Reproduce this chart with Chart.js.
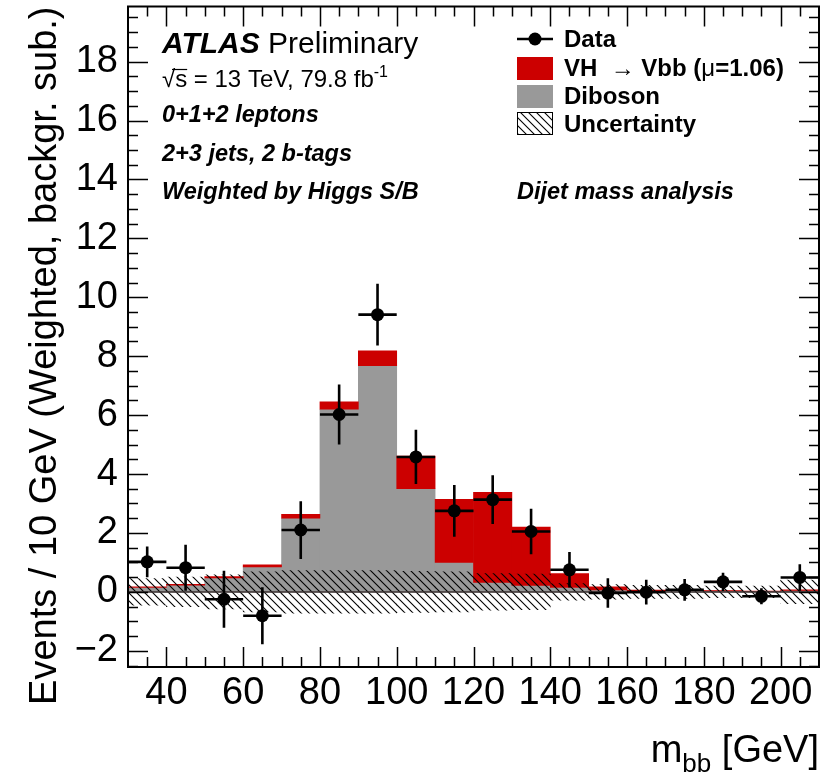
<!DOCTYPE html>
<html>
<head>
<meta charset="utf-8">
<script src="https://cdn.jsdelivr.net/npm/chart.js@4.4.1/dist/chart.umd.min.js"></script>
<style>
  html, body { margin: 0; padding: 0; background: #fff; }
  #wrap { width: 831px; height: 782px; position: relative; }
</style>
</head>
<body>
<div id="wrap"><canvas id="mbbChart" width="831" height="782"></canvas></div>
<script>
// bin centres of the m_bb histogram (10 GeV bins, 30-210 GeV)
const binCenters = [35, 45, 55, 65, 75, 85, 95, 105, 115, 125, 135, 145, 155, 165, 175, 185, 195, 205];
const binWidth = 10;

// stacked MC (weighted, background subtracted)
const diboson = [0.15, 0.23, 0.47, 0.85, 2.50, 6.20, 7.68, 3.50, 1.00, 0.32, 0.22, 0.15, 0.07, 0.04, 0.04, 0.03, 0.02, 0.05];
const vhSignal = [0.02, 0.03, 0.05, 0.07, 0.13, 0.25, 0.50, 1.11, 2.14, 3.06, 1.98, 0.47, 0.10, 0.02, 0.01, 0.01, 0.01, 0.02];

// data points and their errors
const dataVals = [1.02, 0.82, -0.25, -0.81, 2.10, 6.02, 9.41, 4.58, 2.75, 3.13, 2.05, 0.75, -0.04, -0.01, 0.07, 0.34, -0.15, 0.49];
const dataErr = [0.52, 0.78, 0.97, 0.97, 0.98, 1.02, 1.05, 0.92, 0.88, 0.83, 0.77, 0.60, 0.50, 0.42, 0.37, 0.31, 0.27, 0.45];

// background uncertainty band (half width, around zero)
const uncHalf = [0.45, 0.50, 0.58, 0.68, 0.72, 0.72, 0.72, 0.70, 0.68, 0.62, 0.60, 0.28, 0.25, 0.22, 0.22, 0.20, 0.20, 0.40];

const xTicks = [40, 60, 80, 100, 120, 140, 160, 180, 200];
const yTicks = [-2, 0, 2, 4, 6, 8, 10, 12, 14, 16, 18];

const FONT = "'Liberation Sans', Arial, Helvetica, sans-serif";
const RED = "#cc0000";
const GREY = "#999999";

function makeHatch(ctx) {
  const n = 8;
  const c = document.createElement("canvas");
  c.width = n;
  c.height = n;
  const g = c.getContext("2d");
  g.strokeStyle = "#000";
  g.lineWidth = 1.1;
  g.beginPath();
  g.moveTo(0, 0);
  g.lineTo(n, n);
  g.moveTo(-1, n - 1);
  g.lineTo(1, n + 1);
  g.moveTo(n - 1, -1);
  g.lineTo(n + 1, 1);
  g.stroke();
  return ctx.createPattern(c, "repeat");
}

function drawHatchBox(ctx, x, y, w, h, pattern) {
  ctx.fillStyle = "#fff";
  ctx.fillRect(x, y, w, h);
  ctx.fillStyle = pattern;
  ctx.fillRect(x, y, w, h);
  ctx.strokeStyle = "#000";
  ctx.lineWidth = 1;
  ctx.strokeRect(x + 0.5, y + 0.5, w - 1, h - 1);
}

// text pieces drawn one after another: [text, font, dy]
function drawRich(ctx, x, y, parts) {
  let cx = x;
  parts.forEach(([txt, font, dy]) => {
    ctx.font = font;
    ctx.fillText(txt, cx, y + (dy || 0));
    cx += ctx.measureText(txt).width;
  });
  return cx;
}

const atlasDecor = {
  id: "atlasDecor",
  beforeDatasetDraw(chart, args) {
    // zero line and error bars go just under the data markers
    if (args.index !== 0) return;
    const { ctx, chartArea: a, scales: { x, y } } = chart;
    ctx.save();
    ctx.strokeStyle = "#3a3030";
    ctx.lineWidth = 1.5;
    ctx.beginPath();
    ctx.moveTo(a.left, y.getPixelForValue(0));
    ctx.lineTo(a.right, y.getPixelForValue(0));
    ctx.stroke();

    ctx.strokeStyle = "#000";
    ctx.lineWidth = 2.6;
    ctx.beginPath();
    binCenters.forEach((c, i) => {
      const py = y.getPixelForValue(dataVals[i]);
      ctx.moveTo(x.getPixelForValue(c - binWidth / 2), py);
      ctx.lineTo(x.getPixelForValue(c + binWidth / 2), py);
      const px = x.getPixelForValue(c);
      ctx.moveTo(px, y.getPixelForValue(dataVals[i] + dataErr[i]));
      ctx.lineTo(px, y.getPixelForValue(dataVals[i] - dataErr[i]));
    });
    ctx.stroke();
    ctx.restore();
  },
  afterDraw(chart) {
    const { ctx, chartArea: a, scales: { x, y } } = chart;
    ctx.save();

    // frame with inward ticks on all four sides
    ctx.strokeStyle = "#000";
    ctx.lineWidth = 1.5;
    ctx.beginPath();
    for (let v = 35; v < 210; v += 5) {
      const len = v % 20 === 0 ? 20 : 10;
      const px = Math.round(x.getPixelForValue(v)) + 0.5;
      ctx.moveTo(px, a.bottom);
      ctx.lineTo(px, a.bottom - len);
      ctx.moveTo(px, a.top);
      ctx.lineTo(px, a.top + len);
    }
    for (let v = -2.5; v < 20; v += 0.5) {
      const len = v % 2 === 0 ? 20 : 10;
      const py = Math.round(y.getPixelForValue(v)) + 0.5;
      if (py > a.bottom || py < a.top) continue;
      ctx.moveTo(a.left, py);
      ctx.lineTo(a.left + len, py);
      ctx.moveTo(a.right, py);
      ctx.lineTo(a.right - len, py);
    }
    ctx.stroke();
    ctx.lineWidth = 2;
    ctx.strokeRect(a.left, a.top, a.right - a.left, a.bottom - a.top);

    ctx.fillStyle = "#000";
    ctx.textBaseline = "alphabetic";
    ctx.textAlign = "left";

    // axis titles
    ctx.save();
    ctx.translate(56, a.top);
    ctx.rotate(-Math.PI / 2);
    ctx.textAlign = "right";
    ctx.font = "38px " + FONT;
    ctx.fillText("Events / 10 GeV (Weighted, backgr. sub.)", 0, 0);
    ctx.restore();

    const tail = " [GeV]";
    ctx.font = "38px " + FONT;
    const wTail = ctx.measureText(tail).width;
    const wM = ctx.measureText("m").width;
    ctx.font = "26px " + FONT;
    const wSub = ctx.measureText("bb").width;
    drawRich(ctx, a.right - wTail - wSub - wM, 762, [
      ["m", "38px " + FONT, 0],
      ["bb", "26px " + FONT, 10],
      [tail, "38px " + FONT, 0],
    ]);

    // ATLAS label and analysis text
    const lx = 162;
    drawRich(ctx, lx, 53, [
      ["ATLAS", "italic bold 30px " + FONT, 0],
      [" Preliminary", "30px " + FONT, 0],
    ]);
    const sqrtEnd = drawRich(ctx, lx, 87, [["\u221As", "24px " + FONT, 0]]);
    ctx.lineWidth = 1.2;
    ctx.beginPath();
    ctx.moveTo(lx + 10, 69.5);
    ctx.lineTo(sqrtEnd, 69.5);
    ctx.stroke();
    drawRich(ctx, sqrtEnd, 87, [
      [" = 13 TeV, 79.8 fb", "24px " + FONT, 0],
      ["-1", "16px " + FONT, -10],
    ]);
    ctx.font = "italic bold 23.5px " + FONT;
    ctx.fillText("0+1+2 leptons", lx, 122);
    ctx.fillText("2+3 jets, 2 b-tags", lx, 161);
    ctx.fillText("Weighted by Higgs S/B", lx, 199);
    ctx.fillText("Dijet mass analysis", 517, 199);

    // legend
    const bx = 517, bw = 36, tx = 564;
    ctx.strokeStyle = "#000";
    ctx.lineWidth = 2.6;
    ctx.beginPath();
    ctx.moveTo(bx, 39);
    ctx.lineTo(bx + bw, 39);
    ctx.stroke();
    ctx.beginPath();
    ctx.arc(bx + bw / 2, 39, 6.5, 0, Math.PI * 2);
    ctx.fill();
    ctx.fillStyle = RED;
    ctx.fillRect(bx, 57, bw, 23);
    ctx.fillStyle = GREY;
    ctx.fillRect(bx, 85, bw, 23);
    drawHatchBox(ctx, bx, 112, bw, 23, chart.$hatch);

    ctx.fillStyle = "#000";
    const bold = "bold 24px " + FONT;
    ctx.font = bold;
    ctx.fillText("Data", tx, 47);
    drawRich(ctx, tx, 76, [
      ["VH  ", bold, 0],
      ["\u2192", "24px " + FONT, 0],
      [" Vbb (", bold, 0],
      ["\u03BC", "24px " + FONT, 0],
      ["=1.06)", bold, 0],
    ]);
    ctx.font = bold;
    ctx.fillText("Diboson", tx, 104);
    ctx.fillText("Uncertainty", tx, 132);

    ctx.restore();
  },
};

function crearGraficoMbb() {
  const ctx = document.getElementById("mbbChart").getContext("2d");
  const hatch = makeHatch(ctx);

  const chart = new Chart(ctx, {
    type: "bar",
    data: {
      datasets: [
        {
          type: "scatter",
          label: "Data",
          data: binCenters.map((c, i) => ({ x: c, y: dataVals[i] })),
          pointRadius: 6.5,
          pointHoverRadius: 6.5,
          pointBackgroundColor: "#000",
          pointBorderWidth: 0,
          order: 0,
        },
        {
          label: "Uncertainty",
          data: binCenters.map((c, i) => ({ x: c, y: [-uncHalf[i], uncHalf[i]] })),
          backgroundColor: hatch,
          borderWidth: 0,
          grouped: false,
          barPercentage: 1,
          categoryPercentage: 1,
          order: 1,
        },
        {
          label: "VH \u2192 Vbb (\u03BC=1.06)",
          data: binCenters.map((c, i) => ({ x: c, y: [diboson[i], diboson[i] + vhSignal[i]] })),
          backgroundColor: RED,
          borderWidth: 0,
          grouped: false,
          barPercentage: 1,
          categoryPercentage: 1,
          order: 2,
        },
        {
          label: "Diboson",
          data: binCenters.map((c, i) => ({ x: c, y: diboson[i] })),
          backgroundColor: GREY,
          borderWidth: 0,
          grouped: false,
          barPercentage: 1,
          categoryPercentage: 1,
          order: 3,
        },
      ],
    },
    options: {
      responsive: false,
      animation: false,
      layout: { padding: { left: 28, top: 5, right: 12, bottom: 15 } },
      plugins: {
        legend: { display: false },
        tooltip: { enabled: false },
      },
      scales: {
        x: {
          type: "linear",
          min: 30,
          max: 210,
          offset: false,
          grid: { display: false, drawTicks: false },
          border: { display: false },
          afterBuildTicks: (s) => { s.ticks = xTicks.map((v) => ({ value: v })); },
          afterFit: (s) => {
            s.height = 100;
            s.paddingLeft = 0;
            s.paddingRight = 0;
          },
          ticks: {
            padding: 4,
            color: "#000",
            maxRotation: 0,
            autoSkip: false,
            font: { family: FONT, size: 38 },
          },
        },
        y: {
          type: "linear",
          min: -2.55,
          max: 19.87,
          grid: { display: false, drawTicks: false },
          border: { display: false },
          afterBuildTicks: (s) => { s.ticks = yTicks.map((v) => ({ value: v })); },
          afterFit: (s) => {
            s.width = 100;
            s.paddingTop = 0;
            s.paddingBottom = 0;
          },
          ticks: {
            padding: 10,
            color: "#000",
            autoSkip: false,
            font: { family: FONT, size: 38 },
            callback: (v) => (v < 0 ? "\u2212" + Math.abs(v) : String(v)),
          },
        },
      },
    },
    plugins: [atlasDecor],
  });
  chart.$hatch = hatch;
  chart.draw();
  return chart;
}

document.addEventListener("DOMContentLoaded", function () {
  crearGraficoMbb();
});
</script>
</body>
</html>
